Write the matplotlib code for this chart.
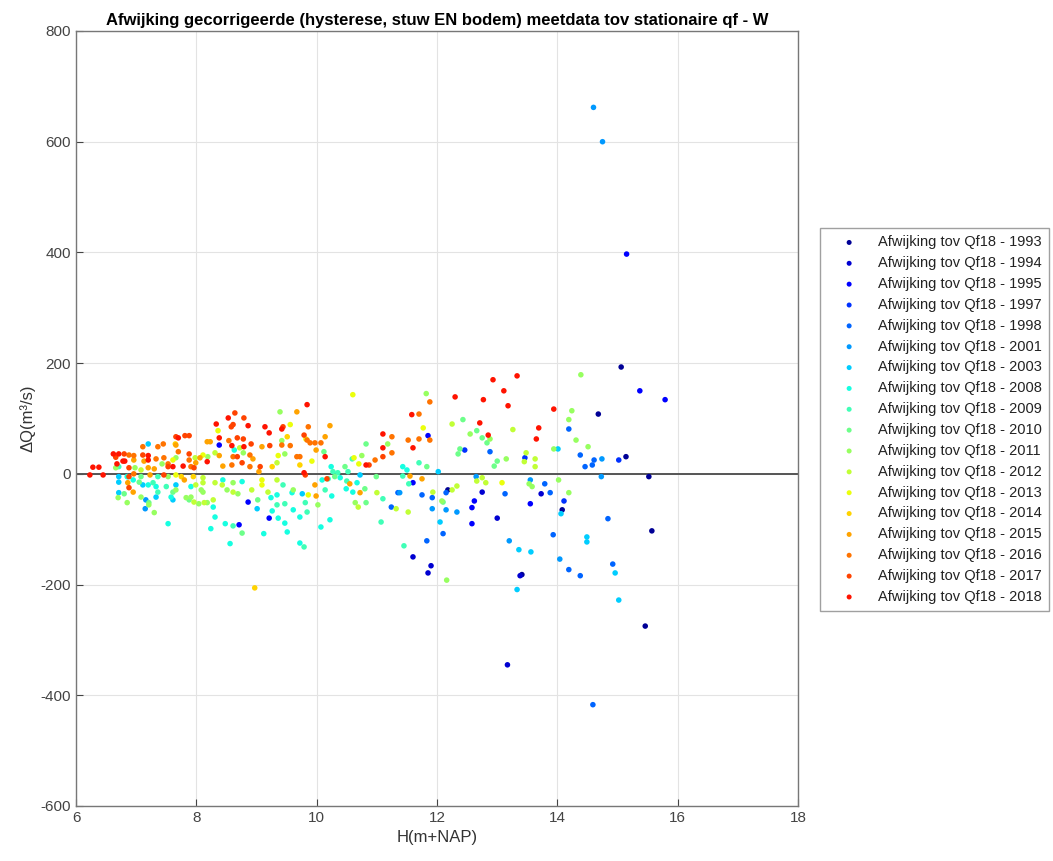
import numpy as np
import matplotlib.pyplot as plt

plt.rcParams['font.family'] = ['Liberation Sans', 'DejaVu Sans']
plt.rcParams['axes.unicode_minus'] = False

years = ['1993', '1994', '1995', '1997', '1998', '2001', '2003', '2008', '2009',
         '2010', '2011', '2012', '2013', '2014', '2015', '2016', '2017', '2018']

# (H, dQ) pairs per year
pts_1993 = [(15.06, 193), (14.68, 108), (15.14, 31), (15.52, -5), (14.08, -65),
            (15.57, -103), (15.46, -275), (13.41, -182), (12.18, -29)]
pts_1994 = [(11.60, -150), (11.90, -166), (11.85, -179), (12.75, -33), (13.00, -80),
            (13.73, -36), (13.38, -184), (13.17, -345)]
pts_1995 = [(15.15, 397), (15.37, 150), (15.79, 134), (11.85, 69), (11.60, -16),
            (12.62, -49), (12.58, -61), (12.58, -90), (13.55, -54), (8.38, 52),
            (8.86, -51), (9.21, -80), (8.71, -92)]
pts_1997 = [(15.02, 25), (13.46, 29), (12.46, 43), (14.11, -49)]
pts_1998 = [(14.19, 81), (14.38, 34), (14.61, 25), (14.46, 13), (14.58, 16), (14.84, -81),
            (14.19, -173), (14.92, -163), (14.38, -184), (14.59, -417), (12.88, 40),
            (11.75, -38), (11.92, -43), (12.15, -34), (12.10, -108), (13.13, -36),
            (13.79, -18), (13.88, -34), (13.93, -110), (11.83, -121), (11.35, -34),
            (11.24, -60)]
pts_2001 = [(14.60, 662), (14.75, 600), (14.73, -5), (14.74, 27), (11.38, -34),
            (11.92, -63), (12.15, -65), (12.33, -69), (12.65, -5), (13.55, -11),
            (13.20, -121), (7.16, -47), (7.15, -63), (14.04, -154)]
pts_2003 = [(14.06, -72), (14.49, -114), (14.49, -123), (14.96, -179), (15.02, -228),
            (12.02, 4), (12.05, -87), (13.36, -137), (13.56, -141), (13.33, -209),
            (14.01, 45), (7.20, 54), (6.71, -5), (6.71, -15), (7.11, -20), (6.71, -34),
            (7.33, -42), (7.66, -20), (7.61, -47), (9.01, -63), (9.76, -36), (10.72, -2)]
pts_2008 = [(11.43, 13), (11.50, 7), (6.85, -5), (6.95, -11), (7.20, -20), (7.33, -23),
            (7.53, -90), (7.58, -42), (7.91, -23), (8.63, 43), (10.24, 13), (8.28, -60),
            (8.31, -78), (8.24, -99), (8.48, -90), (8.56, -126), (9.12, -108),
            (9.51, -105), (9.72, -125), (10.07, -96), (10.22, -83), (9.24, -43),
            (9.26, -67), (9.36, -80), (9.47, -89), (9.61, -65), (9.72, -78), (9.59, -34),
            (8.76, -14), (9.34, -38), (8.44, -11), (10.39, -7), (10.67, -16),
            (10.49, -27), (10.60, -33), (10.09, -11), (10.25, -40), (6.86, -5)]
pts_2009 = [(11.70, 20), (11.43, -4), (11.53, -18), (11.45, -130), (6.71, 13), (7.36, -5),
            (7.28, -16), (7.36, -33), (7.50, -23), (8.61, -94), (9.79, -132), (9.34, -56),
            (9.47, -54), (9.84, -69), (9.81, -52), (9.44, -20), (10.59, 27), (10.27, 4),
            (10.50, -13), (11.10, -45), (11.07, -87), (10.35, 2), (10.52, 4),
            (10.19, -9), (10.14, -29)]
pts_2010 = [(12.43, 98), (12.66, 78), (12.75, 65), (12.83, 56), (12.38, 45), (12.35, 36),
            (13.00, 23), (12.95, 14), (11.83, 13), (12.10, -51), (7.08, -5), (7.05, -15),
            (6.80, -36), (7.21, -52), (7.61, -33), (7.88, -47), (10.12, 40), (8.76, -107),
            (9.02, -47), (10.82, 54), (10.47, 13), (10.80, -27), (10.82, -52),
            (10.99, -5), (10.30, -5)]
pts_2011 = [(14.39, 179), (14.24, 114), (14.19, 98), (14.31, 61), (14.51, 49),
            (14.19, -34), (11.82, 145), (12.55, 72), (12.88, 63), (13.15, 27),
            (13.94, 45), (12.08, -49), (13.53, -18), (13.58, -23), (14.02, -11),
            (12.16, -192), (6.66, 11), (7.43, 18), (7.66, 29), (6.98, 11), (7.53, -5),
            (6.70, -43), (6.85, -52), (7.08, -42), (7.21, -56), (7.30, -70), (7.66, -29),
            (7.83, -43), (7.91, -42), (8.04, -54), (8.08, -29), (9.39, 112), (9.42, 60),
            (8.78, 38), (9.47, 36), (8.19, 31), (8.51, -29), (8.69, -36), (8.18, -52),
            (8.11, -33), (10.02, -56), (9.61, -29), (8.61, -16), (11.18, 54),
            (10.75, 33), (10.64, -52)]
pts_2012 = [(12.25, 90), (13.26, 80), (13.48, 38), (13.45, 22), (13.63, 27), (13.63, 13),
            (11.93, -33), (12.33, -22), (12.25, -29), (12.66, -13), (12.75, -7),
            (12.81, -16), (11.52, -69), (7.08, 7), (7.98, 29), (7.96, -51), (8.13, -52),
            (7.99, -20), (8.11, -16), (8.72, 47), (9.34, 20), (8.31, 38), (8.61, -33),
            (8.92, -29), (8.28, -47), (9.34, -11), (9.19, -33), (8.11, -7), (8.31, -16),
            (8.43, -20), (10.69, -60), (11.00, -34), (11.32, -63)]
pts_2013 = [(11.77, 83), (13.08, -16), (7.61, 25), (7.66, -2), (8.36, 78), (9.56, 89),
            (9.82, 63), (9.92, 23), (9.36, 33), (8.11, 34), (9.86, -38), (9.09, -11),
            (9.09, -20), (10.60, 143), (10.62, 29), (10.70, 18)]
pts_2014 = [(8.97, -206), (7.65, 54), (7.75, -5), (7.95, -5), (9.51, 67), (9.26, 13),
            (9.72, 16)]
pts_2015 = [(11.55, -4), (11.75, -9), (6.96, 25), (7.13, 23), (7.66, 52), (7.99, 20),
            (8.06, 29), (7.20, 11), (7.30, 9), (7.23, -2), (6.86, -16), (6.95, -33),
            (7.80, -11), (9.67, 112), (10.22, 87), (8.18, 58), (8.23, 58), (9.09, 49),
            (10.14, 67), (9.99, 43), (8.38, 33), (8.94, 27), (8.44, 14), (9.04, 4),
            (9.99, -40), (9.97, -20), (10.55, -18), (10.72, -34)]
pts_2016 = [(11.70, 108), (11.88, 130), (11.52, 61), (11.70, 63), (11.88, 61), (6.88, 34),
            (6.96, 33), (7.11, 49), (7.36, 49), (7.45, 54), (7.70, 40), (7.46, 29),
            (7.53, 18), (7.88, 25), (7.91, 13), (7.33, 27), (8.54, 60), (9.42, 52),
            (9.56, 51), (9.84, 61), (9.89, 56), (9.97, 56), (10.07, 56), (9.72, 31),
            (9.67, 31), (9.86, 85), (8.59, 16), (8.89, 13), (8.61, 31), (8.89, 34),
            (11.25, 67), (11.25, 38), (10.97, 25), (6.96, 0)]
pts_2017 = [(6.66, 30), (6.80, 36), (6.88, 11), (7.11, 34), (7.66, 67), (7.81, 69),
            (7.88, 69), (7.88, 36), (7.53, 13), (7.96, 11), (7.46, -2), (6.88, -5),
            (6.88, -25), (8.64, 110), (8.79, 101), (8.61, 89), (8.58, 85), (9.44, 85),
            (9.79, 70), (8.68, 65), (8.78, 63), (8.91, 54), (9.22, 51), (8.68, 31),
            (8.76, 20), (9.06, 13), (9.81, -2), (11.10, 31), (10.87, 16), (10.17, -9)]
pts_2018 = [(12.93, 170), (13.33, 177), (12.30, 139), (13.11, 150), (12.77, 134),
            (13.18, 123), (13.94, 117), (11.58, 107), (12.71, 92), (12.85, 70),
            (13.69, 83), (13.65, 63), (11.60, 47), (6.23, -2), (6.45, -2), (6.28, 12),
            (6.38, 12), (6.62, 36), (6.71, 36), (6.68, 18), (6.78, 23), (6.81, 23),
            (7.20, 33), (7.20, 25), (7.70, 65), (7.61, 13), (7.78, 14), (9.84, 125),
            (8.53, 101), (8.33, 90), (8.86, 87), (9.14, 85), (9.21, 74), (9.42, 81),
            (8.38, 65), (8.59, 51), (8.79, 49), (10.14, 31), (8.18, 22), (9.79, 2),
            (11.10, 72), (11.10, 47), (10.82, 16)]

series = [pts_1993, pts_1994, pts_1995, pts_1997, pts_1998, pts_2001, pts_2003,
          pts_2008, pts_2009, pts_2010, pts_2011, pts_2012, pts_2013, pts_2014,
          pts_2015, pts_2016, pts_2017, pts_2018]

colors = plt.cm.jet(np.linspace(0.02, 0.89, len(years)))

fig = plt.figure(figsize=(10.53, 8.61), dpi=100)
ax = fig.add_axes([0.0722, 0.0639, 0.6857, 0.9001])

for yr, pts, c in zip(years, series, colors):
    arr = np.array(pts, dtype=float)
    ax.scatter(arr[:, 0], arr[:, 1], s=16, color=c, edgecolors='none',
               label='Afwijking tov Qf18 - ' + yr, zorder=3)

ax.axhline(0, color='#555555', lw=1.4, zorder=2)

ax.set_xlim(6, 18)
ax.set_ylim(-600, 800)
ax.set_xticks(np.arange(6, 19, 2))
ax.set_yticks(np.arange(-600, 801, 200))
ax.grid(True, color='#e3e3e3', lw=0.8, zorder=0)
ax.set_axisbelow(True)
ax.tick_params(direction='in', length=5, labelsize=11, colors='#444444')
for sp in ax.spines.values():
    sp.set_color('#777777')
    sp.set_linewidth(1.0)

ax.set_xlabel('H(m+NAP)', fontsize=12, color='#333333')
ax.set_ylabel('ΔQ(m³/s)', fontsize=12, color='#333333')
ax.set_title('Afwijking gecorrigeerde (hysterese, stuw EN bodem) meetdata tov stationaire qf - W',
             fontsize=12, fontweight='bold', pad=4)

leg = fig.legend(loc='upper left', bbox_to_anchor=(0.7787, 0.7352), borderaxespad=0,
                 fontsize=10.5, frameon=True, fancybox=False, edgecolor='#888888',
                 markerscale=0.9, handlelength=3.0, handletextpad=0.5,
                 labelspacing=0.47, borderpad=0.5)
leg.get_frame().set_linewidth(1.0)
for t in leg.get_texts():
    t.set_color('#222222')

fig.savefig('out.png', dpi=100)
